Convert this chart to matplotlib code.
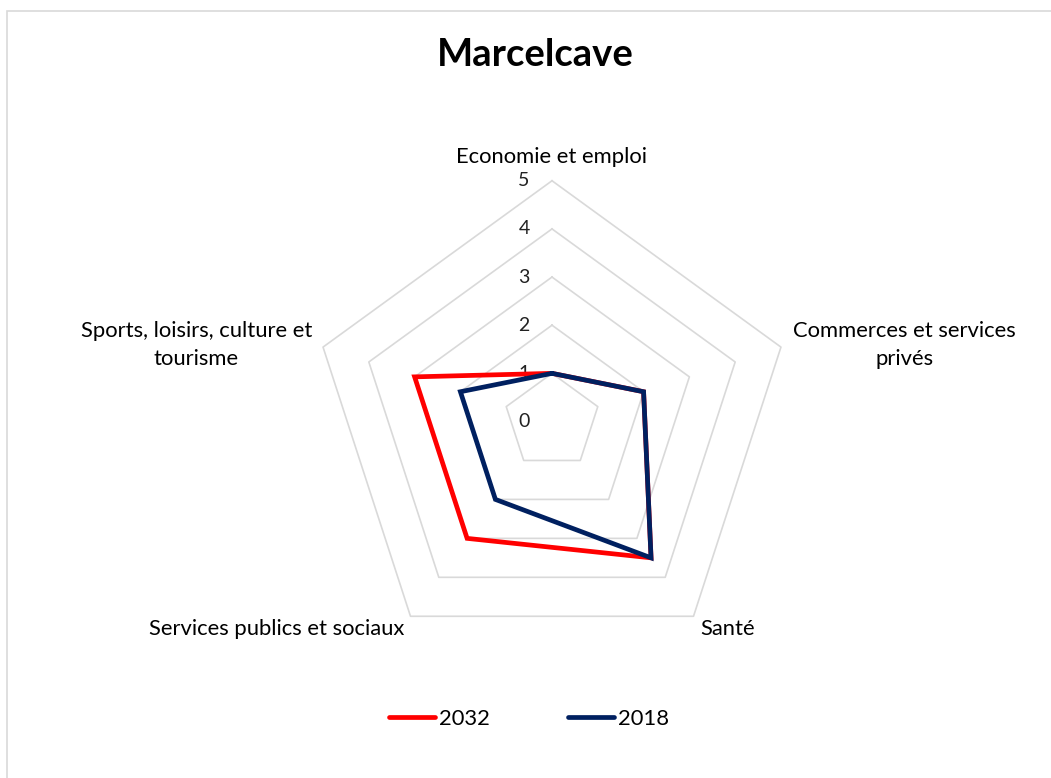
import numpy as np
import matplotlib.pyplot as plt
from matplotlib.patches import Rectangle

categories = ['Economie et emploi', 'Commerces et services\nprivés', 'Santé',
              'Services publics et sociaux', 'Sports, loisirs, culture et\ntourisme']
valeurs_2032 = [1, 2, 3.5, 3, 3]
valeurs_2018 = [1, 2, 3.5, 2, 2]
graduations = [0, 1, 2, 3, 4, 5]

plt.rcParams['font.family'] = ['Lato', 'DejaVu Sans']

W, H = 1051, 778
cx, cy, unit = 552, 421.5, 48.15
fs = 15.8

fig = plt.figure(figsize=(W / 100, H / 100), dpi=100)
ax = fig.add_axes([0, 0, 1, 1])
ax.set_xlim(-cx / unit, (W - cx) / unit)
ax.set_ylim(-(H - cy) / unit, cy / unit)
ax.axis('off')

n = len(categories)
angles = np.deg2rad(90 - 72 * np.arange(n))
ferme = np.append(angles, angles[0])

def xy(vals):
    v = np.append(vals, vals[0])
    return v * np.cos(ferme), v * np.sin(ferme)

# anneaux
for r in graduations[1:]:
    gx, gy = xy(np.full(n, r))
    ax.plot(gx, gy, color='#D9D9D9', lw=1.2, zorder=1)

for r in graduations:
    ax.text(-0.58, r, str(r), ha='center', va='center', fontsize=14, color='#222222', zorder=2)

x1, y1 = xy(np.array(valeurs_2032))
ax.plot(x1, y1, color='#FF0000', lw=3.4, solid_joinstyle='miter', solid_capstyle='round',
        label='2032', zorder=3)
x2, y2 = xy(np.array(valeurs_2018))
ax.plot(x2, y2, color='#002060', lw=3.4, solid_joinstyle='miter', solid_capstyle='round',
        label='2018', zorder=4)

# libellés des axes
ax.text(0, 5.49, categories[0], ha='center', va='center', fontsize=fs)
ax.text(5.0, 1.59, categories[1], ha='left', va='center', fontsize=fs, multialignment='center', linespacing=1.5)
ax.text(3.07, -4.31, categories[2], ha='left', va='center', fontsize=fs)
ax.text(-3.07, -4.31, categories[3], ha='right', va='center', fontsize=fs)
ax.text(-4.98, 1.59, categories[4], ha='right', va='center', fontsize=fs, multialignment='center', linespacing=1.5)

fig.text(535.5 / W, 1 - 54.7 / H, 'Marcelcave', ha='center', va='center', fontsize=27.5, fontweight='bold')

fig.legend(loc='center', bbox_to_anchor=(529 / W, 1 - 719 / H), ncol=2, frameon=False,
           fontsize=fs, handlelength=2.07, handletextpad=0.18, columnspacing=3.6)

fig.patches.append(Rectangle((7 / W, -0.1), 1.2, 1.1 - 11 / H, transform=fig.transFigure,
                             fill=False, edgecolor='#D9D9D9', lw=1.2))

fig.savefig('out.png', dpi=100)
